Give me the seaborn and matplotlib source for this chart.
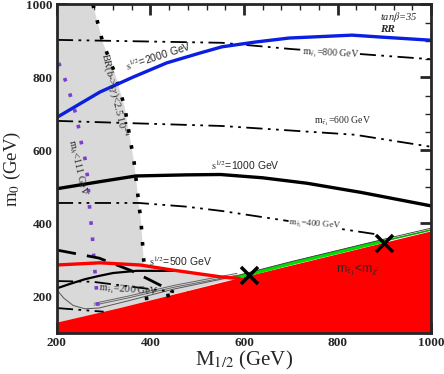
import numpy as np
import seaborn as sns
import matplotlib.pyplot as plt
from matplotlib.ticker import MultipleLocator

# ---- data (M_1/2, m_0) in GeV ----
br_x = [277, 286, 298, 324, 345, 365, 375, 380, 384, 386]
br_y = [1000, 957, 897, 812, 719, 569, 457, 404, 330, 295]
br2_x = [388, 420, 450, 480]
br2_y = [194, 199, 205, 211]

gray_x = [200, 277, 286, 298, 324, 345, 365, 375, 380, 384, 386, 450, 530, 585, 335, 200]
gray_y = [1000, 1000, 957, 897, 812, 719, 569, 457, 404, 330, 290, 272, 258, 250, 168, 128]

red_x = [200, 335, 585, 767, 1000, 1000, 200]
red_y = [128, 168, 248, 305, 378, 100, 100]

green_x = [585, 700, 900]
green_y = [252, 290, 352]
green2_x = [900, 1000]
green2_y = [352, 382]

s2000_x = [202, 292, 363, 435, 506, 553, 624, 696, 831, 889, 1000]
s2000_y = [692, 760, 801, 840, 867, 884, 897, 908, 916, 911, 902]

s1000_x = [200, 290, 369, 476, 550, 640, 735, 850, 1000]
s1000_y = [495, 514, 530, 533, 534, 525, 510, 485, 448]

s500_x = [200, 292, 378, 448, 553, 590]
s500_y = [286, 292, 286, 272, 253, 249]

s500b_x = [200, 230, 260, 290, 320, 370, 450]
s500b_y = [222, 235, 247, 256, 264, 270, 270]

dash_x = [200, 290, 360, 450]
dash_y = [327, 305, 270, 212]

mh_x = [204, 215, 223, 230, 243, 251, 260, 266, 271, 275, 279, 283, 287, 290]
mh_y = [840, 804, 774, 746, 689, 629, 579, 524, 423, 382, 308, 245, 185, 155]

st800_x = [200, 553, 700, 1000]
st800_y = [903, 895, 878, 850]
st600_x = [200, 553, 837, 1000]
st600_y = [681, 667, 643, 610]
st400_x = [200, 375, 476, 553, 889]
st400_y = [456, 456, 446, 434, 369]
st200_x = [200, 277, 350, 450]
st200_y = [242, 240, 228, 212]
st100_x = [200, 300]
st100_y = [168, 158]

thin_x = [200, 215, 235, 260, 290, 350, 450, 585]
thin_y = [218, 195, 175, 166, 168, 187, 220, 256]
dbl_x = [280, 350, 450, 585]
dbl_y = [176, 195, 225, 258]

cross_x = [611, 899]
cross_y = [259, 347]

sns.set_style("ticks")
plt.rcParams['font.family'] = ['Liberation Serif', 'DejaVu Serif']
plt.rcParams['mathtext.fontset'] = 'stix'

fig = plt.figure(figsize=(4.44, 3.74), dpi=100)
ax = fig.add_axes([0.128, 0.110, 0.843, 0.878])

ax.fill(gray_x, gray_y, color='#d9d9d9', lw=0, zorder=1)
ax.fill(red_x, red_y, color='#ff0000', lw=0, zorder=2)
sns.lineplot(x=green_x, y=green_y, sort=False, color='#00dd00', lw=2.5, ax=ax, zorder=3)
sns.lineplot(x=green2_x, y=green2_y, sort=False, color='#00aa00', lw=1.2, ax=ax, zorder=3)
sns.lineplot(x=green_x + green2_x, y=np.array(green_y + green2_y) + 5, sort=False,
             color='#333333', lw=0.6, ax=ax, zorder=3)

sns.lineplot(x=thin_x, y=thin_y, sort=False, color='#555555', lw=0.7, ax=ax, zorder=3)
sns.lineplot(x=dbl_x, y=dbl_y, sort=False, color='#666666', lw=0.7, ax=ax, zorder=3)
sns.lineplot(x=dbl_x, y=np.array(dbl_y) + 5, sort=False, color='#666666', lw=0.7, ax=ax, zorder=3)

dots = (0, (1, 3.5))
sns.lineplot(x=br_x, y=br_y, sort=False, color='black', lw=2.6, ls=dots, ax=ax, zorder=4)
sns.lineplot(x=br2_x, y=br2_y, sort=False, color='black', lw=2.6, ls=(0, (1, 5)), ax=ax, zorder=4)
sns.lineplot(x=mh_x, y=mh_y, sort=False, color='#7b3fd0', lw=2.6, ls=dots, ax=ax, zorder=4)

dd = (0, (9, 3, 1.5, 3, 1.5, 3))
for xs, ys in [(st800_x, st800_y), (st600_x, st600_y), (st400_x, st400_y),
               (st200_x, st200_y), (st100_x, st100_y)]:
    sns.lineplot(x=xs, y=ys, sort=False, color='black', lw=1.3, ls=dd, ax=ax, zorder=4)

sns.lineplot(x=dash_x, y=dash_y, sort=False, color='black', lw=2.0, ls=(0, (7, 4)), ax=ax, zorder=4)
sns.lineplot(x=s500b_x, y=s500b_y, sort=False, color='black', lw=1.6, ax=ax, zorder=4)
sns.lineplot(x=s1000_x, y=s1000_y, sort=False, color='black', lw=2.4, ax=ax, zorder=5)
sns.lineplot(x=s500_x, y=s500_y, sort=False, color='#ff0000', lw=2.4, ax=ax, zorder=5)
sns.lineplot(x=s2000_x, y=s2000_y, sort=False, color='#0a1fe0', lw=2.4, ax=ax, zorder=5)

ax.scatter(cross_x, cross_y, marker='x', s=150, color='black', linewidths=2.5, zorder=6)

# labels
sans = ['Liberation Sans', 'DejaVu Sans']
ax.text(418, 858, r'$\mathrm{s}^{1/2}$=2000 GeV', family=sans, fontsize=7.5, rotation=18,
        ha='center', va='center', zorder=7)
ax.text(602, 560, r'$\mathrm{s}^{1/2}$=1000 GeV', family=sans, fontsize=7.5,
        ha='center', va='center', zorder=7)
ax.text(465, 296, r'$\mathrm{s}^{1/2}$=500 GeV', family=sans, fontsize=7.5,
        ha='center', va='center', zorder=7)
ax.text(322, 752, r'BR(b->s$\gamma$)<2.5 10$^{-4}$', fontsize=7.5, rotation=-77,
        ha='center', va='center', zorder=7)
ax.text(245, 553, r'm$_h$<111 GeV', fontsize=7.5, rotation=-77,
        ha='center', va='center', zorder=7)
ax.text(785, 864, r'm$_{\tilde\tau_1}$=800 GeV', fontsize=7, rotation=-3,
        ha='center', va='center', zorder=7,
        bbox=dict(fc='white', ec='none', pad=0.5))
ax.text(810, 680, r'm$_{\tilde\tau_1}$=600 GeV', fontsize=7,
        ha='center', va='center', zorder=7)
ax.text(752, 395, r'm$_{\tilde\tau_1}$=400 GeV', fontsize=6.5, rotation=-4,
        ha='center', va='center', zorder=7,
        bbox=dict(fc='white', ec='none', pad=0.3))
ax.text(354, 216, r'm$_{\tilde\tau_1}$=200 GeV', fontsize=7.5, rotation=-4,
        ha='center', va='center', zorder=7)
ax.text(844, 272, r'm$_{\tilde\tau_1}$<m$_{\tilde\chi}$', family=sans, fontsize=9,
        ha='center', va='center', zorder=7)
ax.text(930, 965, r'tan$\beta$=35', fontsize=7.5, style='italic', ha='center', va='center', zorder=7)
ax.text(906, 932, 'RR', fontsize=8, style='italic', weight='bold', ha='center', va='center', zorder=7)

ax.set_xlim(200, 1000)
ax.set_ylim(100, 1000)
ax.set_xticks([200, 400, 600, 800, 1000])
ax.set_yticks([200, 400, 600, 800, 1000])
ax.xaxis.set_minor_locator(MultipleLocator(40))
ax.yaxis.set_minor_locator(MultipleLocator(50))
ax.tick_params(which='major', direction='in', length=8, width=2, top=True, right=True,
               labelsize=9.5, pad=3)
ax.tick_params(which='minor', direction='in', length=4, width=1, top=True, right=True)
for lab in ax.get_xticklabels() + ax.get_yticklabels():
    lab.set_fontweight('bold')
for sp in ax.spines.values():
    sp.set_linewidth(2)
    sp.set_zorder(8)
ax.set_xlabel(r'M$_{1/2}$ (GeV)', fontsize=15, labelpad=0)
ax.set_ylabel(r'm$_0$ (GeV)', fontsize=13.5, labelpad=2)

fig.savefig('out.png', dpi=100)
